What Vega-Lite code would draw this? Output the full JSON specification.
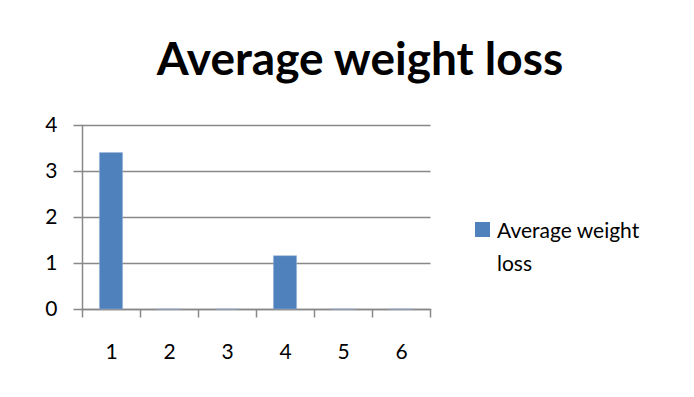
{
  "$schema": "https://vega.github.io/schema/vega-lite/v6.json",
  "autosize": "none",
  "width": 348,
  "height": 184,
  "padding": {"left": 82, "top": 125, "right": 264, "bottom": 88},
  "background": "white",
  "title": {
    "text": "Average weight loss",
    "font": "Lato",
    "fontSize": 46,
    "fontWeight": "bold",
    "color": "black",
    "anchor": "middle",
    "baseline": "alphabetic",
    "dx": 104,
    "offset": -7
  },
  "data": {
    "values": [
      {"category": "1", "value": 3.4, "series": "Average weight loss"},
      {"category": "2", "value": 0, "series": "Average weight loss"},
      {"category": "3", "value": 0, "series": "Average weight loss"},
      {"category": "4", "value": 1.16, "series": "Average weight loss"},
      {"category": "5", "value": 0, "series": "Average weight loss"},
      {"category": "6", "value": 0, "series": "Average weight loss"}
    ]
  },
  "mark": {"type": "bar", "width": {"band": 0.4}, "stroke": "#9DB7D9", "strokeWidth": 0.5},
  "encoding": {
    "x": {
      "field": "category",
      "type": "ordinal",
      "sort": null,
      "scale": {"paddingInner": 0, "paddingOuter": 0},
      "axis": {
        "title": null,
        "labelAngle": 0,
        "labelFont": "Lato",
        "labelFontSize": 21,
        "labelColor": "black",
        "labelPadding": 16,
        "tickBand": "extent",
        "tickSize": 8,
        "tickColor": "#888888",
        "domainColor": "#888888",
        "domainWidth": 1.5,
        "tickWidth": 1.5,
        "grid": false
      }
    },
    "y": {
      "field": "value",
      "type": "quantitative",
      "scale": {"domain": [0, 4], "nice": false},
      "axis": {
        "title": null,
        "values": [0, 1, 2, 3, 4],
        "labelFont": "Lato",
        "labelFontSize": 21,
        "labelColor": "black",
        "labelPadding": 16,
        "labelOffset": -8,
        "tickSize": 9,
        "tickColor": "#888888",
        "tickWidth": 1.5,
        "domainColor": "#888888",
        "domainWidth": 1.5,
        "grid": true,
        "gridColor": "#888888",
        "gridWidth": 1.5
      }
    },
    "color": {
      "field": "series",
      "type": "nominal",
      "scale": {"range": ["#4F81BD"]},
      "legend": {
        "title": null,
        "orient": "none",
        "legendX": 390,
        "legendY": 94,
        "symbolType": "square",
        "symbolSize": 225,
        "symbolStrokeWidth": 0,
        "labelFont": "Lato",
        "labelFontSize": 21,
        "labelColor": "black",
        "labelLimit": 300,
        "labelOffset": 4,
        "labelExpr": "['Average weight', 'loss']",
        "labelBaseline": "alphabetic"
      }
    }
  },
  "config": {
    "view": {"stroke": null},
    "axis": {"domainCap": "square"},
    "style": {"guide-label": {"lineHeight": 33, "dy": 8}}
  }
}
